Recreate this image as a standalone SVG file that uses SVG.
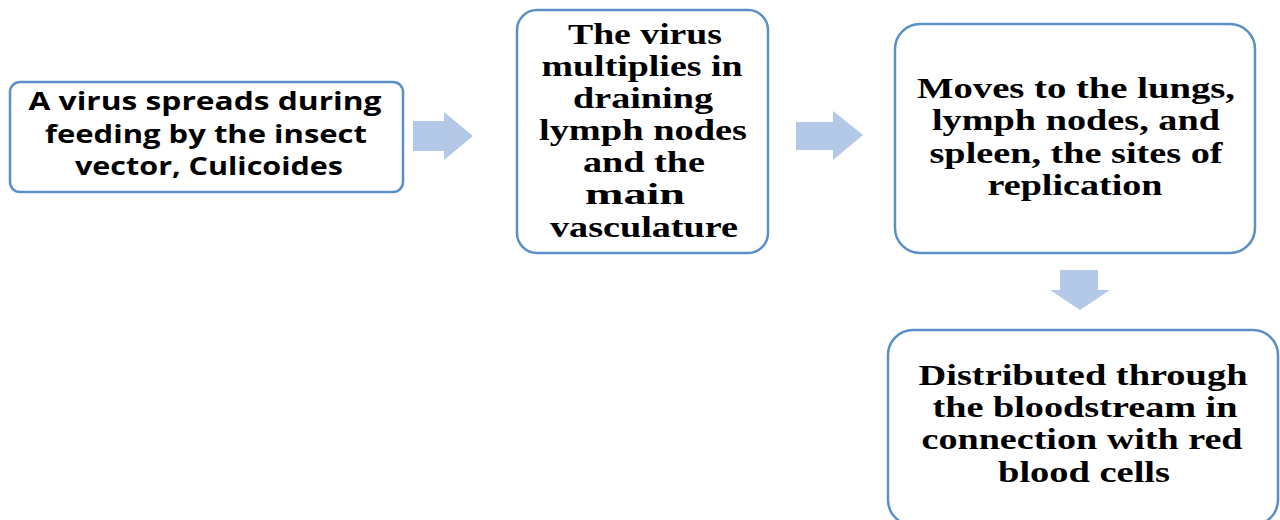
<svg xmlns="http://www.w3.org/2000/svg" width="1280" height="520" viewBox="0 0 1280 520">
  <style>
    .box { fill: #ffffff; stroke: #5b8fc8; stroke-width: 2.5; }
    .flow { fill: #b3c9e7; stroke: none; }
    .sans { font-family: "Open Sans", "Liberation Sans", sans-serif; font-weight: bold; font-size: 25px; fill: #000; text-anchor: middle; }
    .serif { font-family: "Liberation Serif", "Times New Roman", serif; font-weight: bold; font-size: 29px; fill: #000; text-anchor: middle; }
  </style>
  <rect width="1280" height="520" fill="#ffffff"/>

  <g id="connectors">
    <polygon class="flow" points="413,121 444,121 444,112 473,136 444,160 444,151 413,151"/>
    <polygon class="flow" points="796,122 833,122 833,111 863,135 833,160 833,150 796,150"/>
    <polygon class="flow" points="1060,270 1098,270 1098,290 1110,290 1080,310 1050,290 1060,290"/>
  </g>

  <g id="node-bite">
    <rect class="box" x="10" y="82" width="393" height="110" rx="10"/>
    <text class="sans" x="205" y="110" textLength="353" lengthAdjust="spacingAndGlyphs">A virus spreads during</text>
    <text class="sans" x="206" y="143" textLength="322" lengthAdjust="spacingAndGlyphs">feeding by the insect</text>
    <text class="sans" x="209" y="175" textLength="268" lengthAdjust="spacingAndGlyphs">vector, Culicoides</text>
  </g>

  <g id="node-lymph">
    <rect class="box" x="517" y="10" width="251" height="243" rx="20"/>
    <text class="serif" x="645" y="44" textLength="154" lengthAdjust="spacingAndGlyphs">The virus</text>
    <text class="serif" x="642" y="76" textLength="201" lengthAdjust="spacingAndGlyphs">multiplies in</text>
    <text class="serif" x="643" y="108" textLength="140" lengthAdjust="spacingAndGlyphs">draining</text>
    <text class="serif" x="643" y="140" textLength="208" lengthAdjust="spacingAndGlyphs">lymph nodes</text>
    <text class="serif" x="644" y="172" textLength="122" lengthAdjust="spacingAndGlyphs">and the</text>
    <text class="serif" x="635" y="204" textLength="100" lengthAdjust="spacingAndGlyphs">main</text>
    <text class="serif" x="644" y="237" textLength="188" lengthAdjust="spacingAndGlyphs">vasculature</text>
  </g>

  <g id="node-organs">
    <rect class="box" x="895" y="24" width="360" height="229" rx="25"/>
    <text class="serif" x="1076" y="98" textLength="318" lengthAdjust="spacingAndGlyphs">Moves to the lungs,</text>
    <text class="serif" x="1076" y="130" textLength="288" lengthAdjust="spacingAndGlyphs">lymph nodes, and</text>
    <text class="serif" x="1076" y="163" textLength="293" lengthAdjust="spacingAndGlyphs">spleen, the sites of</text>
    <text class="serif" x="1075" y="195" textLength="175" lengthAdjust="spacingAndGlyphs">replication</text>
  </g>

  <g id="node-blood">
    <rect class="box" x="888" y="330" width="390" height="195" rx="25"/>
    <text class="serif" x="1083" y="385" textLength="329" lengthAdjust="spacingAndGlyphs">Distributed through</text>
    <text class="serif" x="1085" y="417" textLength="305" lengthAdjust="spacingAndGlyphs">the bloodstream in</text>
    <text class="serif" x="1082" y="449" textLength="321" lengthAdjust="spacingAndGlyphs">connection with red</text>
    <text class="serif" x="1084" y="482" textLength="172" lengthAdjust="spacingAndGlyphs">blood cells</text>
  </g>
</svg>
